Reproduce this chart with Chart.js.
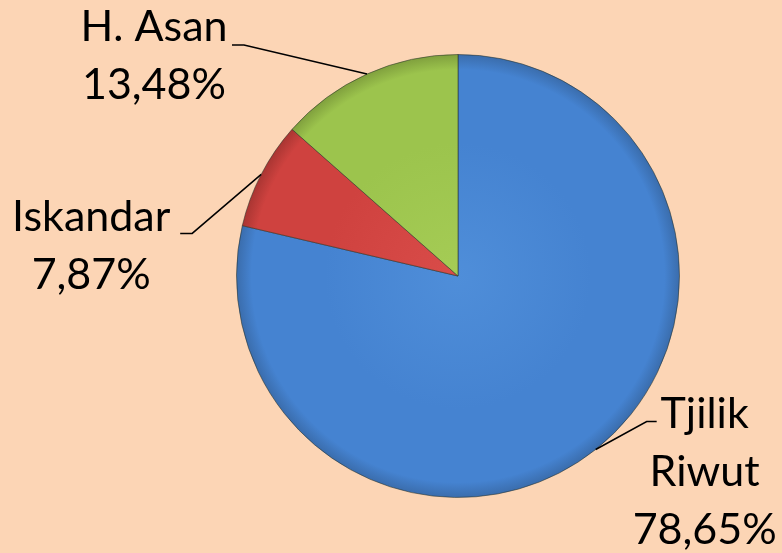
<!DOCTYPE html>
<html>
<head>
<meta charset="utf-8">
<script src="https://cdn.jsdelivr.net/npm/chart.js@4"></script>
<style>
  html, body { margin: 0; padding: 0; background: #fcd5b5; }
  #wrap { width: 782px; height: 553px; }
</style>
</head>
<body>
<div id="wrap"><canvas id="pieChart"></canvas></div>
<script>
const labels = ["Tjilik Riwut", "Iskandar", "H. Asan"];
const values = [78.65, 7.87, 13.48];
const baseColors = ["#4583d1", "#cf423f", "#9cc44d"];
const edgeColors = ["#3a6cab", "#a83532", "#7f9f3d"];
const lightColors = ["#4f8ed9", "#d94c49", "#a5cc55"];

// label lines (text is split per line), elbow offset from slice edge, text anchor
const labelLines = [["Tjilik", "Riwut"], ["Iskandar"], ["H. Asan"]];
const labelOpts = [
  { elbow: [51, -28], tail: 10, text: [109, -22] },
  { elbow: [-69, 59], tail: -12, text: [-170, 57] },
  { elbow: [-123, -29], tail: -12, text: [-213, -33] }
];

function fmt(v) {
  return v.toFixed(2).replace(".", ",") + "%";
}

function sliceFill(context) {
  const chart = context.chart;
  const i = context.dataIndex;
  const area = chart.chartArea;
  if (!area) return baseColors[i];
  const cx = (area.left + area.right) / 2;
  const cy = (area.top + area.bottom) / 2;
  const r = Math.min(area.right - area.left, area.bottom - area.top) / 2;
  const g = chart.ctx.createRadialGradient(cx, cy, 0, cx, cy, r);
  g.addColorStop(0, lightColors[i]);
  g.addColorStop(0.6, baseColors[i]);
  g.addColorStop(0.93, baseColors[i]);
  g.addColorStop(1, edgeColors[i]);
  return g;
}

const leaderLabels = {
  id: "leaderLabels",
  afterDraw(chart) {
    const ctx = chart.ctx;
    const arcs = chart.getDatasetMeta(0).data;
    ctx.save();
    ctx.strokeStyle = "#000";
    ctx.lineWidth = 1.5;
    ctx.fillStyle = "#000";
    ctx.font = "43px Lato";
    ctx.textAlign = "center";
    ctx.textBaseline = "alphabetic";
    arcs.forEach((arc, i) => {
      const mid = (arc.startAngle + arc.endAngle) / 2;
      const ex = arc.x + Math.cos(mid) * arc.outerRadius;
      const ey = arc.y + Math.sin(mid) * arc.outerRadius;
      const o = labelOpts[i];
      const bx = ex + o.elbow[0];
      const by = ey + o.elbow[1];
      ctx.beginPath();
      ctx.moveTo(ex, ey);
      ctx.lineTo(bx, by);
      ctx.lineTo(bx + o.tail, by);
      ctx.stroke();
      const lines = labelLines[i].concat([fmt(values[i])]);
      const tx = ex + o.text[0];
      let ty = ey + o.text[1];
      lines.forEach((t) => {
        ctx.fillText(t, tx, ty);
        ty += 58;
      });
    });
    ctx.restore();
  }
};

const data = {
  labels: labels,
  datasets: [
    {
      data: values,
      backgroundColor: sliceFill,
      borderColor: "rgba(40,50,40,0.55)",
      borderWidth: 1
    }
  ]
};

const chartconfig = {
  type: "pie",
  data,
  options: {
    responsive: true,
    maintainAspectRatio: false,
    animation: false,
    layout: {
      padding: { left: 236, right: 102, top: 54, bottom: 55 }
    },
    plugins: {
      legend: { display: false },
      tooltip: { enabled: false }
    }
  },
  plugins: [leaderLabels]
};

new Chart(document.getElementById("pieChart"), chartconfig);
</script>
</body>
</html>
